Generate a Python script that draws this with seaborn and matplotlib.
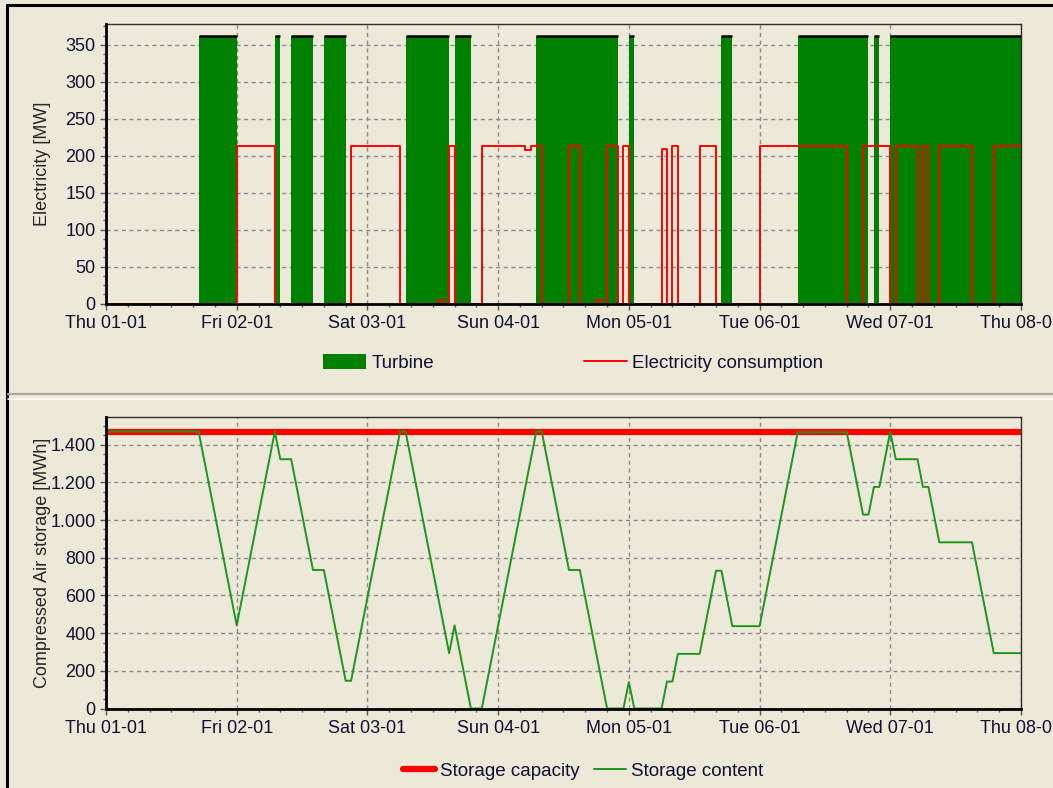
import numpy as np
import pandas as pd
import matplotlib
matplotlib.use("Agg")
import matplotlib.pyplot as plt
import matplotlib.dates as mdates
from matplotlib.lines import Line2D
from matplotlib.patches import Patch
from matplotlib.ticker import MultipleLocator, FuncFormatter
import seaborn as sns

# ---------------- data (hours since Thu 01-01 00:00) ----------------
turbine_hours = [0, 17, 24, 31, 32, 34, 38, 40, 44, 55, 63, 64, 67, 79, 94, 96, 97,
                 113, 115, 127, 140, 141, 142, 144, 168]
turbine_mw = [0, 362, 0, 362, 0, 362, 0, 362, 0, 362, 0, 362, 0, 362, 0, 362, 0,
              362, 0, 362, 0, 362, 0, 362, 362]

cons_hours = [0, 24, 31, 45, 54, 61, 62, 63, 64, 69, 77, 78, 80, 85, 87, 90, 91, 92, 94,
              95, 96, 102, 103, 104, 105, 109, 112, 120, 136, 139, 144, 145, 149, 150,
              151, 153, 159, 163, 168]
cons_mw = [0, 213, 0, 213, 0, 5, 0, 213, 0, 213, 208, 213, 0, 213, 0, 5, 0, 213, 0,
           213, 0, 209, 0, 213, 0, 213, 0, 213, 0, 213, 0, 213, 0, 213,
           0, 213, 0, 213, 213]

stor_hours = [0, 17, 24, 31, 32, 34, 38, 40, 44, 45, 54, 55, 63, 64, 67, 69, 79, 80, 85, 87,
              92, 95, 96, 97, 102, 103, 104, 105, 109, 112, 113, 115, 120, 127, 136, 139,
              140, 141, 142, 144, 145, 149, 150, 151, 153, 159, 163, 168]
stor_mwh = [1470, 1470, 441, 1470, 1323, 1323, 735, 735, 147, 147, 1470, 1470, 294, 441, 0, 0,
            1470, 1470, 735, 735, 0, 0, 140, 0, 0, 143, 143, 290, 290, 731, 731, 437, 437,
            1466, 1466, 1029, 1029, 1176, 1176, 1470, 1323, 1323, 1176, 1176, 882, 882, 294, 294]

cap_hours = [0, 168]
cap_mwh = [1470, 1470]

day_labels_start = "2015-01-01"   # Thursday

# ---------------- style ----------------
BG = "#ECE9D8"
GREEN = "#008000"
LINE_GREEN = "#1f951f"
RED = "#FF0000"

sns.set_style("ticks", {"axes.facecolor": BG, "figure.facecolor": BG})
plt.rcParams["font.family"] = ["Liberation Sans", "DejaVu Sans"]
plt.rcParams["text.color"] = "#101030"
plt.rcParams["xtick.color"] = "#555555"
plt.rcParams["ytick.color"] = "#555555"
plt.rcParams["xtick.labelcolor"] = "#101030"
plt.rcParams["ytick.labelcolor"] = "#101030"

start = pd.Timestamp(day_labels_start)
to_t = lambda hrs: [start + pd.Timedelta(hours=h) for h in hrs]

W, H = 1053, 788
fig = plt.figure(figsize=(W / 100, H / 100), dpi=100, facecolor=BG)


def px_axes(l, t, r, b):
    return fig.add_axes([l / W, 1 - b / H, (r - l) / W, (b - t) / H])


ax1 = px_axes(106, 23.5, 1021, 303.5)
ax2 = px_axes(106, 417, 1021, 708.5)

# ---------------- top panel ----------------
df_t = pd.DataFrame({"time": to_t(turbine_hours), "Turbine": turbine_mw})
df_c = pd.DataFrame({"time": to_t(cons_hours), "Electricity consumption": cons_mw})

ax1.fill_between(df_t["time"], 0, df_t["Turbine"], step="post", color=GREEN, lw=0, zorder=2)
for i in range(len(turbine_hours) - 1):
    if turbine_mw[i] > 0:
        ax1.hlines(turbine_mw[i], df_t["time"][i], df_t["time"][i + 1], color="black", lw=1.8, zorder=3)
sns.lineplot(data=df_c, x="time", y="Electricity consumption", ax=ax1, color=RED, lw=1.4,
             drawstyle="steps-post", estimator=None, zorder=4)

# ---------------- bottom panel ----------------
df_s = pd.DataFrame({"time": to_t(stor_hours), "Storage content": stor_mwh})
df_cap = pd.DataFrame({"time": to_t(cap_hours), "Storage capacity": cap_mwh})
sns.lineplot(data=df_cap, x="time", y="Storage capacity", ax=ax2, color=RED, lw=4.5,
             estimator=None, zorder=3)
sns.lineplot(data=df_s, x="time", y="Storage content", ax=ax2, color=LINE_GREEN, lw=1.4,
             estimator=None, zorder=4)

# ---------------- axes formatting ----------------
for ax in (ax1, ax2):
    ax.set_facecolor(BG)
    ax.set_xlim(start, start + pd.Timedelta(days=7))
    ax.xaxis.set_major_locator(mdates.DayLocator())
    ax.xaxis.set_minor_locator(mdates.HourLocator(byhour=range(0, 24, 4)))
    ax.xaxis.set_major_formatter(mdates.DateFormatter("%a %d-%m"))
    ax.grid(True, which="major", ls=(0, (3, 2.5)), color="#8a8a8a", lw=1.0, zorder=1)
    ax.set_axisbelow(True)
    for s in ("left", "bottom"):
        ax.spines[s].set_linewidth(2.0)
        ax.spines[s].set_color("black")
        ax.spines[s].set_zorder(6)
    for s in ("top", "right"):
        ax.spines[s].set_visible(True)
        ax.spines[s].set_linewidth(1.0)
        ax.spines[s].set_color("#303030")
    ax.tick_params(which="major", direction="out", length=4, width=1, labelsize=13, pad=3.5)
    ax.tick_params(which="minor", direction="out", length=2, width=1)
    ax.tick_params(axis="x", which="major", pad=4.5)
    ax.set_xlabel("")

ax1.set_ylim(0, 379)
ax1.yaxis.set_major_locator(MultipleLocator(50))
ax1.yaxis.set_minor_locator(MultipleLocator(12.5))
ax1.set_ylabel("Electricity [MW]", fontsize=13)
ax1.yaxis.set_label_coords(-0.060, 0.5)

ax2.set_ylim(0, 1547)
ax2.yaxis.set_major_locator(MultipleLocator(200))
ax2.yaxis.set_minor_locator(MultipleLocator(50))
ax2.yaxis.set_major_formatter(FuncFormatter(lambda v, p: f"{v:,.0f}".replace(",", ".")))
ax2.set_ylabel("Compressed Air storage [MWh]", fontsize=13)
ax2.yaxis.set_label_coords(-0.060, 0.5)

# ---------------- legends ----------------
h1 = [Patch(facecolor=GREEN, edgecolor="none"), Line2D([], [], color=RED, lw=1.4)]
leg1 = fig.legend(h1, ["Turbine", "Electricity consumption"], loc="center",
                  bbox_to_anchor=(573 / W, 1 - 363 / H), ncol=2, frameon=False, fontsize=13.5,
                  handlelength=2.3, handleheight=0.9, handletextpad=0.25, columnspacing=8.0)
h2 = [Line2D([], [], color=RED, lw=4.5), Line2D([], [], color=LINE_GREEN, lw=1.4)]
leg2 = fig.legend(h2, ["Storage capacity", "Storage content"], loc="center",
                  bbox_to_anchor=(583 / W, 1 - 771 / H), ncol=2, frameon=False, fontsize=13.5,
                  handlelength=1.7, handletextpad=0.25, columnspacing=0.8)

# ---------------- window frame & separator ----------------
fig.add_artist(Line2D([7 / W, 1], [1 - 5 / H, 1 - 5 / H], color="black", lw=2.2, transform=fig.transFigure))
fig.add_artist(Line2D([7 / W, 7 / W], [0, 1 - 5 / H], color="black", lw=2.2, transform=fig.transFigure))
fig.add_artist(Line2D([8 / W, 1], [1 - 393.5 / H] * 2, color="#ACA899", lw=1.6, transform=fig.transFigure))
fig.add_artist(Line2D([8 / W, 1], [1 - 398.5 / H] * 2, color="white", lw=1.2, transform=fig.transFigure))

fig.savefig("out.png", dpi=100, facecolor=BG)
